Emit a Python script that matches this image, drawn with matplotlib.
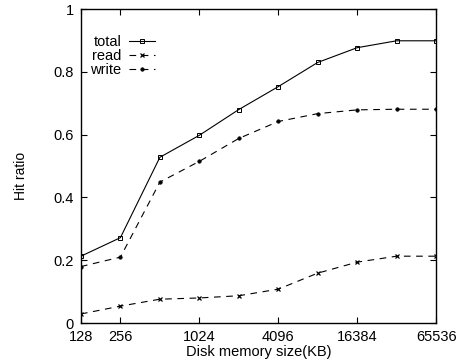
import matplotlib
matplotlib.use("Agg")
import matplotlib.pyplot as plt
from matplotlib.ticker import FixedLocator, FixedFormatter, NullLocator

plt.rcParams["font.family"] = ["Liberation Sans", "DejaVu Sans"]

# Disk memory size (KB), one point per doubling
mem_kb = [128, 256, 512, 1024, 2048, 4096, 8192, 16384, 32768, 65536]

# Hit ratio for each curve
total_hit = [0.213, 0.272, 0.528, 0.598, 0.680, 0.753, 0.830, 0.877, 0.899, 0.899]
read_hit = [0.029, 0.054, 0.076, 0.080, 0.087, 0.108, 0.159, 0.194, 0.213, 0.213]
write_hit = [0.180, 0.210, 0.449, 0.515, 0.588, 0.642, 0.667, 0.679, 0.681, 0.681]

xtick_vals = [128, 256, 1024, 4096, 16384, 65536]
xtick_labels = ["128", "256", "1024", "4096", "16384", "65536"]
ytick_vals = [0, 0.2, 0.4, 0.6, 0.8, 1.0]
ytick_labels = ["0", "0.2", "0.4", "0.6", "0.8", "1"]

fig = plt.figure(figsize=(4.6, 3.63), dpi=100)
ax = fig.add_axes([0.176, 0.110, 0.772, 0.865])

ax.plot(mem_kb, total_hit, color="black", lw=0.8, marker="s", ms=3.5,
        mfc="none", mew=0.7, label="total")
ax.plot(mem_kb, read_hit, color="black", lw=0.8, ls=(0, (6, 5)), marker="x",
        ms=2.5, mew=0.9, label="read")
ax.plot(mem_kb, write_hit, color="black", lw=0.8, ls=(0, (6, 5)), marker="o",
        ms=2.5, mfc="black", mew=0.5, label="write")

ax.set_xscale("log", base=2)
ax.set_xlim(128, 65536)
ax.set_ylim(0, 1)

ax.xaxis.set_major_locator(FixedLocator(xtick_vals))
ax.xaxis.set_major_formatter(FixedFormatter(xtick_labels))
ax.xaxis.set_minor_locator(NullLocator())
ax.yaxis.set_major_locator(FixedLocator(ytick_vals))
ax.yaxis.set_major_formatter(FixedFormatter(ytick_labels))

ax.tick_params(direction="in", top=True, right=True, length=4, width=0.8,
               labelsize=10.5, pad=5)
for s in ax.spines.values():
    s.set_linewidth(1.0)

ax.set_xlabel("Disk memory size(KB)", fontsize=10.5, labelpad=1)
ax.set_ylabel("Hit ratio", fontsize=10)
ax.yaxis.set_label_coords(-0.15, 0.47)

leg = ax.legend(loc="upper left", bbox_to_anchor=(0.01, 0.935), frameon=False,
                markerfirst=False, fontsize=10.5, handlelength=1.8,
                handletextpad=0.5, labelspacing=0.0, borderaxespad=0)

fig.savefig("out.png", dpi=100)
